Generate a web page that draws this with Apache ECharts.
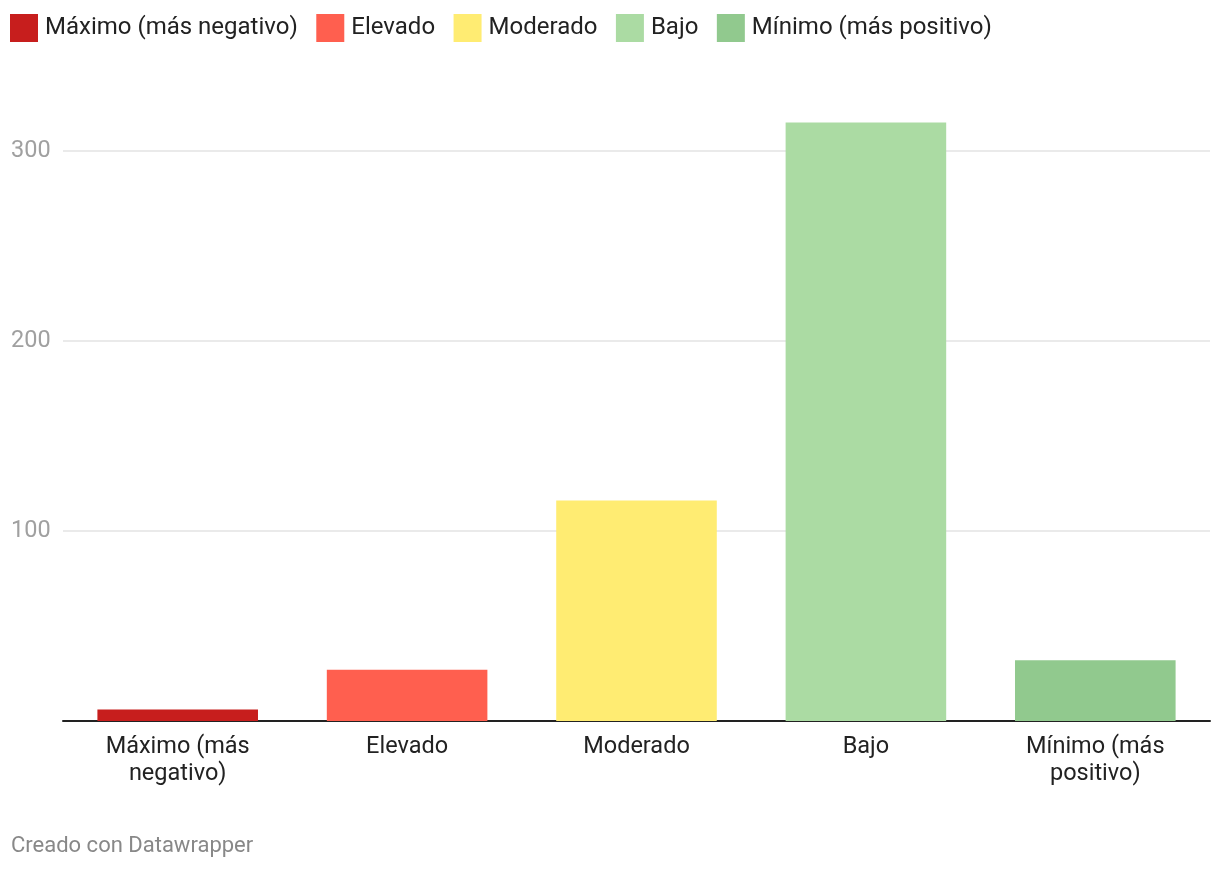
<!DOCTYPE html>
<html>
<head>
<meta charset="utf-8">
<script src="https://cdn.jsdelivr.net/npm/echarts@6/dist/echarts.min.js"></script>
<style>
html,body{margin:0;padding:0;background:#fff;}
#c{width:1220px;height:872px;}
</style>
</head>
<body>
<div id="c"></div>
<script>
const categories = ["Máximo (más negativo)", "Elevado", "Moderado", "Bajo", "Mínimo (más positivo)"];
const axisLabels = ["Máximo (más\nnegativo)", "Elevado", "Moderado", "Bajo", "Mínimo (más\npositivo)"];
const values = [6, 27, 116, 315, 32];
const colors = ["#c71e1d", "#ff5f4f", "#ffec72", "#abdba3", "#91c98e"];
const yTicks = [0, 100, 200, 300];

const chart = echarts.init(document.getElementById('c'));
const series = categories.map((name, i) => ({
  name: name,
  type: 'bar',
  stack: 'all',
  barWidth: '70%',
  clip: false,
  itemStyle: { color: colors[i] },
  data: values.map((v, j) => (j === i ? v : '-'))
}));

chart.setOption({
  animation: false,
  textStyle: { fontFamily: 'Roboto' },
  legend: {
    left: 5,
    top: 9,
    icon: 'rect',
    itemWidth: 28,
    itemHeight: 28,
    itemGap: 18.5,
    selectedMode: false,
    textStyle: { fontSize: 24, color: '#222', fontFamily: 'Roboto', padding: [0, 0, 0, 2] },
    data: categories
  },
  grid: { left: 63, right: 10, top: 151, bottom: 151, containLabel: false },
  xAxis: {
    type: 'category',
    data: axisLabels,
    axisLine: { lineStyle: { color: '#222', width: 2 } },
    axisTick: { show: false },
    axisLabel: { color: '#222', fontSize: 23.5, lineHeight: 27, margin: 13, interval: 0, fontFamily: 'Roboto' }
  },
  yAxis: {
    type: 'value',
    min: yTicks[0],
    max: yTicks[yTicks.length - 1],
    interval: 100,
    axisLine: { show: false },
    axisTick: { show: false },
    splitLine: { lineStyle: { color: '#e3e3e3', width: 1.5 } },
    axisLabel: {
      color: '#a0a0a0', fontSize: 23.5, align: 'left', margin: 52, fontFamily: 'Roboto',
      formatter: v => (v === 0 ? '' : String(v))
    }
  },
  graphic: [{
    type: 'text', left: 11, top: 835,
    style: { text: 'Creado con Datawrapper', fill: '#888', fontSize: 22, fontFamily: 'Roboto' }
  }],
  series: series
});
</script>
</body>
</html>
